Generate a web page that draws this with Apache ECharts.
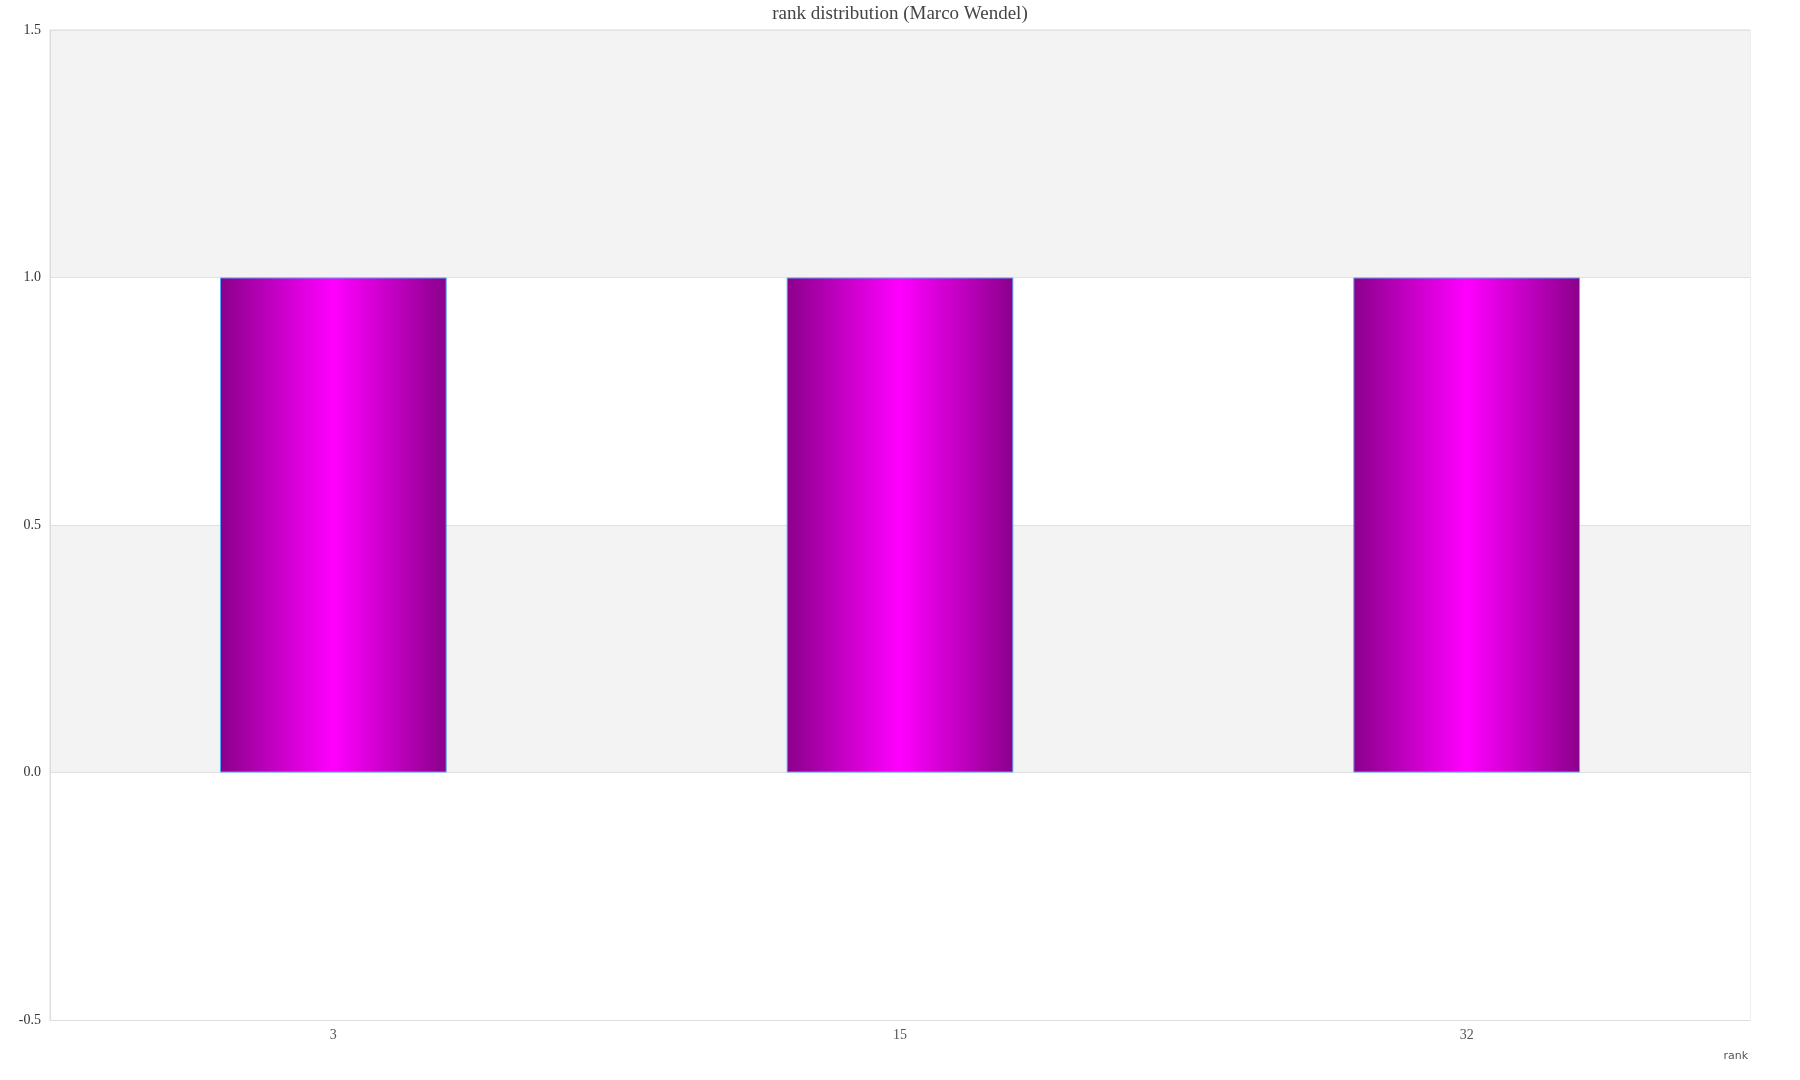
<!DOCTYPE html>
<html>
<head>
<meta charset="utf-8">
<script src="https://cdn.jsdelivr.net/npm/echarts@6/dist/echarts.min.js"></script>
<style>html,body{margin:0;padding:0;background:#fff}#c{width:1800px;height:1080px}</style>
</head>
<body>
<div id="c"></div>
<script>
const titleText = 'rank distribution (Marco Wendel)';
const categories = ['3', '15', '32'];
const counts = [1, 1, 1];
const yMin = -0.5, yMax = 1.5, yStep = 0.5;

const chart = echarts.init(document.getElementById('c'));
const grad = new echarts.graphic.LinearGradient(0, 0, 1, 0, [
  { offset: 0, color: '#8b008b' },
  { offset: 0.5, color: '#ff00ff' },
  { offset: 1, color: '#8b008b' }
]);
chart.setOption({
  animation: false,
  backgroundColor: '#fff',
  title: {
    text: titleText, left: 'center', top: 0,
    textStyle: { fontFamily: 'Liberation Serif, DejaVu Serif, serif', fontSize: 19, fontWeight: 'normal', color: '#444' }
  },
  grid: { left: 50, right: 50, top: 30, bottom: 60, show: true, borderColor: '#ddd', borderWidth: 1, backgroundColor: 'transparent' },
  xAxis: {
    type: 'category', data: categories,
    name: 'rank', nameLocation: 'end', nameGap: 0,
    nameTextStyle: { fontFamily: 'DejaVu Sans, sans-serif', fontSize: 11, color: '#555', align: 'right', verticalAlign: 'top', padding: [31, 2, 0, 0] },
    axisLine: { show: true, onZero: false, lineStyle: { color: '#ddd' } },
    axisTick: { show: false },
    axisLabel: { fontFamily: 'Liberation Serif, DejaVu Serif, serif', fontSize: 14, color: '#555', margin: 8 },
    splitLine: { show: false }
  },
  yAxis: {
    type: 'value', min: yMin, max: yMax, interval: yStep,
    axisLine: { show: true, lineStyle: { color: '#ddd' } },
    axisTick: { show: false },
    axisLabel: { fontFamily: 'Liberation Serif, DejaVu Serif, serif', fontSize: 14, color: '#333', margin: 9, formatter: v => v.toFixed(1) },
    splitLine: { show: true, lineStyle: { color: '#e0e0e0' } },
    splitArea: { show: true, areaStyle: { color: ['#ffffff', '#f3f3f3'] } }
  },
  series: [{
    type: 'bar', data: counts, barWidth: '40%',
    itemStyle: { color: grad, borderColor: '#55a8f5', borderWidth: 1 }
  }]
});
</script>
</body>
</html>
